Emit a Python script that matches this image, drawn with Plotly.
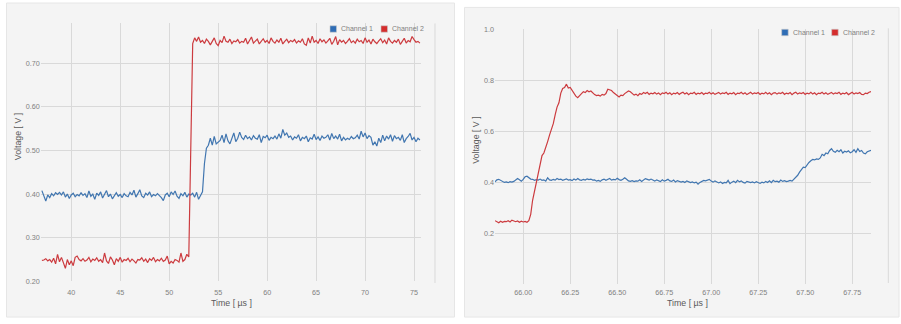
import plotly.graph_objects as go

W, H = 901, 324

# ---------------- data ----------------
series_names = ["Channel 1", "Channel 2"]

# left chart: time axis 37.0 .. 75.6 µs, 0.2 µs step
left_t0, left_dt = 37.0, 0.2
left_ch1 = [
    0.408, 0.395, 0.384, 0.398, 0.392, 0.401, 0.396, 0.403, 0.399, 0.404,
    0.398, 0.405, 0.393, 0.400, 0.390, 0.398, 0.402, 0.394, 0.399, 0.396,
    0.403, 0.397, 0.401, 0.392, 0.407, 0.395, 0.400, 0.388, 0.402, 0.397,
    0.405, 0.391, 0.399, 0.408, 0.394, 0.400, 0.389, 0.397, 0.403, 0.395,
    0.399, 0.392, 0.401, 0.396, 0.394, 0.404, 0.398, 0.409, 0.393, 0.401,
    0.410, 0.396, 0.392, 0.402, 0.398, 0.405, 0.394, 0.399, 0.396, 0.401,
    0.397, 0.392, 0.385, 0.398, 0.402, 0.394, 0.405, 0.399, 0.407, 0.395,
    0.390, 0.401, 0.396, 0.404, 0.393, 0.400, 0.398, 0.402, 0.393, 0.404,
    0.388, 0.396, 0.405, 0.470, 0.505, 0.512, 0.528, 0.512, 0.532, 0.515,
    0.520, 0.523, 0.535, 0.518, 0.538, 0.522, 0.515, 0.530, 0.540, 0.520,
    0.528, 0.542, 0.530, 0.525, 0.535, 0.527, 0.531, 0.524, 0.534, 0.528,
    0.526, 0.536, 0.518, 0.532, 0.529, 0.535, 0.523, 0.530, 0.527, 0.533,
    0.526, 0.538, 0.528, 0.548, 0.535, 0.540, 0.530, 0.533, 0.524, 0.531,
    0.528, 0.536, 0.522, 0.530, 0.527, 0.533, 0.520, 0.529, 0.526, 0.537,
    0.525, 0.531, 0.523, 0.533, 0.528, 0.530, 0.536, 0.524, 0.539, 0.527,
    0.533, 0.526, 0.537, 0.522, 0.530, 0.524, 0.528, 0.525, 0.532, 0.527,
    0.529, 0.535, 0.526, 0.544, 0.531, 0.540, 0.527, 0.534, 0.530, 0.512,
    0.520, 0.510, 0.528, 0.518, 0.535, 0.522, 0.533, 0.526, 0.536, 0.521,
    0.534, 0.527, 0.530, 0.523, 0.536, 0.518, 0.527, 0.532, 0.539, 0.524,
    0.530, 0.520, 0.528, 0.524,
]
left_ch2 = [
    0.248, 0.249, 0.252, 0.247, 0.250, 0.244, 0.253, 0.240, 0.262, 0.245,
    0.255, 0.243, 0.230, 0.250, 0.238, 0.247, 0.236, 0.255, 0.258, 0.250,
    0.247, 0.252, 0.246, 0.249, 0.255, 0.245, 0.251, 0.248, 0.254, 0.246,
    0.250, 0.243, 0.265, 0.247, 0.241, 0.256, 0.249, 0.238, 0.252, 0.246,
    0.255, 0.244, 0.250, 0.248, 0.253, 0.245, 0.251, 0.247, 0.242, 0.250,
    0.249, 0.254, 0.246, 0.251, 0.243, 0.252, 0.248, 0.255, 0.245, 0.250,
    0.247, 0.253, 0.246, 0.249, 0.258, 0.240, 0.246, 0.242, 0.250, 0.248,
    0.244, 0.265, 0.246, 0.250, 0.262, 0.256, 0.520, 0.745, 0.758, 0.750,
    0.760, 0.748, 0.752, 0.745, 0.755, 0.750, 0.742, 0.752, 0.758, 0.745,
    0.740, 0.752, 0.747, 0.762, 0.750, 0.748, 0.755, 0.745, 0.751, 0.749,
    0.754, 0.746, 0.750, 0.748, 0.757, 0.744, 0.752, 0.760, 0.746, 0.750,
    0.755, 0.744, 0.749, 0.756, 0.748, 0.752, 0.745, 0.758, 0.750, 0.746,
    0.753, 0.748, 0.757, 0.744, 0.750, 0.755, 0.747, 0.752, 0.749, 0.754,
    0.746, 0.751, 0.748, 0.756, 0.744, 0.741, 0.758, 0.746, 0.762, 0.748,
    0.752, 0.745, 0.756, 0.749, 0.753, 0.746, 0.751, 0.757, 0.743, 0.750,
    0.761, 0.742, 0.754, 0.748, 0.752, 0.745, 0.750, 0.756, 0.747, 0.751,
    0.746, 0.755, 0.749, 0.752, 0.745, 0.758, 0.748, 0.753, 0.744, 0.755,
    0.749, 0.745, 0.751, 0.756, 0.747, 0.753, 0.744, 0.758, 0.750, 0.746,
    0.752, 0.748, 0.755, 0.743, 0.750, 0.757, 0.746, 0.752, 0.749, 0.761,
    0.754, 0.748, 0.750, 0.746,
]
left_tickvals = [40, 45, 50, 55, 60, 65, 70, 75]
left_yticks = [0.20, 0.30, 0.40, 0.50, 0.60, 0.70]

# right chart: time axis 65.85 .. 67.85 µs, 0.01 µs step
right_t0, right_dt = 65.85, 0.01
right_ch1 = [
    0.402, 0.410, 0.412, 0.408, 0.403, 0.400, 0.402, 0.399, 0.403, 0.401,
    0.404, 0.408, 0.415, 0.410, 0.405, 0.412, 0.422, 0.424, 0.418, 0.413,
    0.412, 0.408, 0.411, 0.409, 0.413, 0.408, 0.410, 0.405, 0.418, 0.410,
    0.408, 0.412, 0.409, 0.415, 0.411, 0.413, 0.408, 0.410, 0.414, 0.409,
    0.411, 0.407, 0.413, 0.409, 0.415, 0.410, 0.408, 0.412, 0.409, 0.414,
    0.411, 0.413, 0.409, 0.410, 0.405, 0.408, 0.404, 0.410, 0.413, 0.408,
    0.410, 0.415, 0.409, 0.412, 0.410, 0.416, 0.411, 0.408, 0.412, 0.418,
    0.412, 0.406, 0.404, 0.407, 0.403, 0.406, 0.405, 0.410, 0.404, 0.408,
    0.415, 0.412, 0.409, 0.413, 0.408, 0.405, 0.410, 0.406, 0.403, 0.410,
    0.405, 0.408, 0.412, 0.406, 0.404, 0.409, 0.402, 0.407, 0.404, 0.401,
    0.404, 0.400, 0.406, 0.403, 0.399, 0.402, 0.398, 0.401, 0.393, 0.400,
    0.404, 0.408, 0.406, 0.410, 0.412, 0.405, 0.401, 0.406, 0.403, 0.398,
    0.402, 0.396, 0.400, 0.398, 0.408, 0.395, 0.401, 0.405, 0.399, 0.408,
    0.402, 0.406, 0.400, 0.397, 0.404, 0.401, 0.399, 0.402, 0.398, 0.403,
    0.400, 0.396, 0.401, 0.398, 0.404, 0.400, 0.406, 0.399, 0.408, 0.403,
    0.405, 0.401, 0.409, 0.404, 0.407, 0.403, 0.405, 0.408, 0.405, 0.412,
    0.418, 0.428, 0.440, 0.452, 0.460, 0.458, 0.470, 0.478, 0.485, 0.490,
    0.488, 0.492, 0.490, 0.496, 0.510, 0.505, 0.515, 0.512, 0.525, 0.532,
    0.522, 0.518, 0.526, 0.520, 0.528, 0.515, 0.522, 0.519, 0.524, 0.516,
    0.520, 0.528, 0.518, 0.532, 0.521, 0.525, 0.515, 0.512, 0.520, 0.524,
    0.526,
]
right_ch2 = [
    0.250, 0.245, 0.242, 0.248, 0.244, 0.247, 0.246, 0.250, 0.245, 0.252,
    0.248, 0.246, 0.249, 0.244, 0.248, 0.245, 0.247, 0.244, 0.250, 0.275,
    0.330, 0.365, 0.400, 0.445, 0.480, 0.505, 0.515, 0.535, 0.560, 0.585,
    0.605, 0.630, 0.665, 0.695, 0.712, 0.750, 0.768, 0.772, 0.785, 0.770,
    0.772, 0.760, 0.748, 0.738, 0.732, 0.742, 0.748, 0.755, 0.752, 0.760,
    0.755, 0.758, 0.750, 0.744, 0.740, 0.742, 0.738, 0.745, 0.742, 0.748,
    0.765, 0.762, 0.760, 0.752, 0.745, 0.740, 0.735, 0.742, 0.740, 0.748,
    0.752, 0.758, 0.755, 0.750, 0.742, 0.746, 0.740, 0.748, 0.745, 0.752,
    0.748, 0.753, 0.745, 0.750, 0.747, 0.752, 0.746, 0.750, 0.744, 0.751,
    0.748, 0.753, 0.746, 0.751, 0.744, 0.750, 0.747, 0.752, 0.745, 0.750,
    0.753, 0.746, 0.751, 0.744, 0.750, 0.748, 0.753, 0.745, 0.750, 0.747,
    0.752, 0.745, 0.750, 0.748, 0.753, 0.746, 0.751, 0.745, 0.750, 0.752,
    0.746, 0.751, 0.748, 0.753, 0.745, 0.750, 0.747, 0.752, 0.744, 0.750,
    0.748, 0.753, 0.746, 0.751, 0.744, 0.750, 0.753, 0.746, 0.751, 0.748,
    0.752, 0.745, 0.750, 0.747, 0.753, 0.746, 0.751, 0.744, 0.750, 0.752,
    0.746, 0.751, 0.748, 0.753, 0.745, 0.750, 0.747, 0.752, 0.744, 0.750,
    0.753, 0.746, 0.751, 0.748, 0.752, 0.745, 0.750, 0.747, 0.753, 0.746,
    0.751, 0.744, 0.750, 0.748, 0.753, 0.746, 0.751, 0.745, 0.750, 0.752,
    0.746, 0.751, 0.748, 0.753, 0.745, 0.750, 0.747, 0.752, 0.744, 0.750,
    0.753, 0.746, 0.751, 0.748, 0.752, 0.745, 0.744, 0.750, 0.748, 0.753,
    0.756,
]
right_tickvals = [66.00, 66.25, 66.50, 66.75, 67.00, 67.25, 67.50, 67.75]
right_yticks = [0.2, 0.4, 0.6, 0.8, 1.0]

x_title = "Time [ µs ]"
y_title = "Voltage [ V ]"

# ---------------- style ----------------
line_colors = ["#4176b0", "#cc3b3f"]
swatch_colors = ["#2f6db5", "#d42d2d"]
grid_c = "#d9d9d9"
tick_c = "#808080"
title_c = "#5a5a5a"
panel_fill = "#f4f4f4"
panel_line = "#e6e6e6"
FONT = "Liberation Sans, Arial, sans-serif"
TICK_SIZE = 7.2
LEG_SIZE = 7
TITLE_SIZE = 8.8


def px(x):
    return x / W


def py(y):
    return 1 - y / H


left_t = [round(left_t0 + i * left_dt, 4) for i in range(len(left_ch1))]
right_t = [round(right_t0 + i * right_dt, 4) for i in range(len(right_ch1))]

fig = go.Figure()

for vals, col, name in [(left_ch1, line_colors[0], series_names[0]),
                        (left_ch2, line_colors[1], series_names[1])]:
    fig.add_trace(go.Scatter(x=left_t, y=vals, mode="lines", name=name,
                             line=dict(color=col, width=1.2), showlegend=False,
                             xaxis="x", yaxis="y"))
for vals, col, name in [(right_ch1, line_colors[0], series_names[0]),
                        (right_ch2, line_colors[1], series_names[1])]:
    fig.add_trace(go.Scatter(x=right_t, y=vals, mode="lines", name=name,
                             line=dict(color=col, width=1.2), showlegend=False,
                             xaxis="x2", yaxis="y2"))

axis_common = dict(showgrid=True, gridcolor=grid_c, gridwidth=1, zeroline=False,
                   showline=False, ticks="",
                   tickfont=dict(family=FONT, size=TICK_SIZE, color=tick_c),
                   fixedrange=True)

# plot areas (pixel geometry)
L = dict(x0=40.7, x1=420.7, y0=20, y1=285.3)
R = dict(x0=495, x1=871, y0=26, y1=288.5)

fig.update_layout(
    width=W, height=H, margin=dict(l=0, r=0, t=0, b=0),
    paper_bgcolor="white", plot_bgcolor="rgba(0,0,0,0)",
    xaxis=dict(domain=[px(L["x0"]), px(L["x1"])], range=[36.88, 75.68],
               tickvals=left_tickvals, ticktext=[str(v) for v in left_tickvals],
               ticklabelstandoff=5, anchor="y", **axis_common),
    yaxis=dict(domain=[py(L["y1"]), py(L["y0"])], range=[0.2, 0.791],
               tickvals=left_yticks, ticktext=[f"{v:.2f}" for v in left_yticks],
               anchor="x", **axis_common),
    xaxis2=dict(domain=[px(R["x0"]), px(R["x1"])], range=[65.85, 67.85],
                tickvals=right_tickvals, ticktext=[f"{v:.2f}" for v in right_tickvals],
                ticklabelstandoff=2, anchor="y2", **axis_common),
    yaxis2=dict(domain=[py(R["y1"]), py(R["y0"])], range=[0.0, 1.0],
                tickvals=right_yticks, ticktext=[f"{v:.1f}" for v in right_yticks],
                anchor="x2", **axis_common),
)

shapes = []
# panels
shapes.append(dict(type="rect", xref="paper", yref="paper", layer="below",
                   x0=px(6.5), x1=px(454.5), y0=py(322), y1=py(-1),
                   fillcolor=panel_fill, line=dict(color=panel_line, width=1)))
shapes.append(dict(type="rect", xref="paper", yref="paper", layer="below",
                   x0=px(464.5), x1=px(899), y0=py(322), y1=py(3.5),
                   fillcolor=panel_fill, line=dict(color=panel_line, width=1)))
# stray right-side rules
shapes.append(dict(type="line", xref="paper", yref="paper", layer="below",
                   x0=px(435), x1=px(435), y0=py(287), y1=py(20),
                   line=dict(color=grid_c, width=1)))
shapes.append(dict(type="line", xref="paper", yref="paper", layer="below",
                   x0=px(888.3), x1=px(888.3), y0=py(287), y1=py(25),
                   line=dict(color=grid_c, width=1)))

annotations = []


# legends (manual, squares + text)
def legend(x_sq, y_c, x_txt_gap=2.5):
    for k, xs in enumerate(x_sq):
        shapes.append(dict(type="rect", xref="paper", yref="paper",
                           x0=px(xs), x1=px(xs + 6.5), y0=py(y_c + 3.3), y1=py(y_c - 3.3),
                           fillcolor=swatch_colors[k], line=dict(color="#c8c8c8", width=0.6)))
        annotations.append(dict(xref="paper", yref="paper", x=px(xs + 6.5 + x_txt_gap), y=py(y_c),
                                xanchor="left", yanchor="middle", showarrow=False,
                                text=series_names[k],
                                font=dict(family=FONT, size=LEG_SIZE, color=tick_c)))


legend([330, 381], 25.7)
legend([781.7, 831.7], 29.3)

# axis titles
for cx, cy in [(231, 308), (687, 308)]:
    annotations.append(dict(xref="paper", yref="paper", x=px(cx), y=py(cy),
                            xanchor="center", yanchor="middle", showarrow=False,
                            text=x_title, font=dict(family=FONT, size=TITLE_SIZE, color=title_c)))
for cx, cy in [(18, 137), (475.7, 140)]:
    annotations.append(dict(xref="paper", yref="paper", x=px(cx), y=py(cy),
                            xanchor="center", yanchor="middle", showarrow=False, textangle=-90,
                            text=y_title, font=dict(family=FONT, size=TITLE_SIZE, color=title_c)))

fig.update_layout(shapes=shapes, annotations=annotations)
fig.write_html("out.html")
